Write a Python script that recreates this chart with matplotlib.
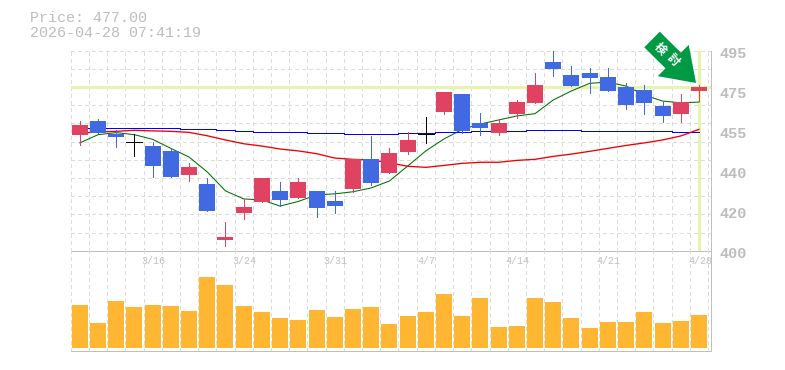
import numpy as np
import matplotlib
matplotlib.use('Agg')
import matplotlib.pyplot as plt
from matplotlib.patches import FancyArrow
from matplotlib.transforms import IdentityTransform

# prices
opens = [455.0, 461.6, 455.4, 451.6, 449.7, 447.4, 436.0, 431.7, 405.1, 417.9, 423.1, 428.4,
         425.0, 428.4, 423.6, 429.3, 443.6, 436.9, 446.9, 455.4, 465.9, 474.4, 460.7, 455.9,
         464.9, 470.2, 489.6, 483.5, 484.4, 482.5, 477.8, 476.3, 468.7, 464.9, 475.9]
closes = [459.7, 455.9, 454.0, 451.6, 440.2, 435.0, 439.8, 418.9, 406.5, 420.8, 434.5, 424.1,
          432.6, 420.3, 421.2, 443.6, 432.2, 446.4, 452.6, 455.4, 475.4, 456.9, 458.3, 460.7,
          470.6, 478.7, 486.3, 478.2, 482.0, 475.9, 469.2, 470.2, 464.0, 470.6, 477.8]
highs = [461.6, 462.6, 457.3, 455.4, 451.6, 448.8, 441.7, 434.5, 413.6, 424.6, 434.5, 432.6,
         434.5, 428.4, 428.4, 443.6, 454.5, 448.8, 456.4, 463.5, 475.4, 474.4, 465.4, 462.6,
         471.6, 484.4, 495.3, 487.7, 486.8, 486.8, 479.7, 478.7, 470.6, 474.4, 478.7]
lows = [450.2, 455.9, 449.3, 445.0, 435.0, 435.0, 433.1, 418.9, 402.2, 415.1, 423.1, 421.2,
        425.0, 416.0, 417.9, 427.9, 431.2, 436.9, 445.9, 451.2, 464.9, 455.9, 455.0, 455.0,
        463.0, 470.2, 483.0, 478.2, 474.9, 475.9, 467.3, 464.9, 461.1, 461.1, 471.1]
ma_short = [451.2, 455.1, 456.1, 455.1, 452.9, 448.6, 444.5, 437.4, 428.4, 424.6, 424.1, 421.2,
            423.4, 426.5, 427.0, 428.0, 429.8, 433.1, 440.2, 447.4, 453.1, 457.6, 460.2, 462.1,
            464.0, 465.1, 471.6, 475.9, 479.5, 480.1, 478.2, 473.9, 471.1, 470.2, 470.6]
ma_mid = [455.8, 456.4, 456.7, 457.2, 456.9, 456.7, 456.2, 454.6, 452.6, 450.8, 449.7, 448.3,
          447.4, 446.1, 444.0, 443.4, 443.1, 441.8, 440.1, 439.6, 440.5, 441.5, 442.0, 442.0,
          442.9, 443.4, 444.8, 445.9, 447.2, 448.6, 450.0, 451.2, 452.6, 454.5, 457.6]
ma_long = [458.4, 458.4, 458.4, 458.4, 458.4, 458.4, 458.0, 457.6, 457.2, 456.7, 456.2, 456.2,
           456.2, 455.8, 455.8, 455.3, 455.3, 455.3, 455.8, 455.8, 456.2, 456.2, 456.7, 456.7,
           456.7, 457.2, 457.2, 457.2, 456.7, 456.7, 456.7, 456.7, 456.7, 456.2, 456.2]
volumes = [129, 75, 141, 123, 129, 126, 111, 213, 189, 126, 108, 90, 84, 114, 93, 117, 123, 72,
           96, 108, 162, 96, 150, 63, 66, 150, 138, 90, 60, 78, 78, 108, 75, 81, 99]
date_pos = [4, 9, 14, 19, 24, 29, 34]
date_labels = ['3/16', '3/24', '3/31', '4/7', '4/14', '4/21', '4/28']
price_ticks = [400, 419, 438, 457, 476, 495]
price_labels = ['400', '420', '440', '455', '475', '495']
last_price = 477.6
header = ['Price: 477.00', '2026-04-28 07:41:19']
badge = ['\u691c', '\u8a0e']

RED = '#e04362'
BLUE = '#4169e1'
LIME = '#e6f5aa'
GRID = '#dcdcdc'
FRAME = '#bfbfbf'
TXT = '#bdbdbd'
MONO = 'Liberation Mono'
PX = 0.72  # one pixel in points

W, H = 785, 370
fig = plt.figure(figsize=(W / 100, H / 100), dpi=100)

def make_axes(top, bottom):
    a = fig.add_axes([70.7 / W, 1 - bottom / H, 640 / W, (bottom - top) / H])
    a.patch.set_visible(False)
    return a

ax = make_axes(50.7, 250.7)
vax = make_axes(250.7, 350.7)
xlim = (-0.5, 34.645)

for a in (ax, vax):
    a.set_xlim(*xlim)
    a.set_axisbelow(True)
    a.set_xticks(np.arange(-0.5, 35, 1))
    a.tick_params(length=0, labelbottom=False, labelleft=False)
    a.grid(True, axis='x', color=GRID, lw=PX, ls=(0, (3, 3)), antialiased=False)
    a.spines['top'].set_visible(False)
    a.spines['left'].set_visible(False)
    for side in ('bottom', 'right'):
        a.spines[side].set_color(FRAME)
        a.spines[side].set_linewidth(PX)
        a.spines[side].set_antialiased(False)

# price panel
ax.set_ylim(400, 495)
ax.set_yticks(np.linspace(400, 495, 12))
ax.grid(True, axis='y', color=GRID, lw=PX, ls=(0, (3, 3)), antialiased=False)

ax.axhline(last_price, color=LIME, lw=3 * PX, zorder=1, antialiased=False)
ax.axvline(34, color=LIME, lw=3 * PX, zorder=1, antialiased=False)

xs = np.arange(len(opens))
ax.plot(xs, ma_short, color='#006f00', lw=0.75, zorder=2)
ax.plot(xs, ma_long, color='#0000ff', lw=PX, drawstyle='steps-mid', zorder=2, antialiased=False)
ax.plot(xs, ma_mid, color='#f00000', lw=0.95, zorder=2)
for i in xs:
    o, c = opens[i], closes[i]
    col = 'black' if o == c else (RED if c > o else BLUE)
    ax.vlines(i, lows[i], highs[i], color=col, lw=PX, zorder=3, antialiased=False)
    if o == c:
        ax.hlines(o, i - 0.44, i + 0.44, color=col, lw=PX, zorder=3, antialiased=False)
    else:
        ax.bar(i, abs(c - o), bottom=min(o, c), width=0.88, color=col, lw=0, zorder=3, antialiased=False)

# volume panel
vax.set_ylim(-8, 292)
vax.set_yticks([])
vax.bar(xs, volumes, width=0.88, color='#ffb733', lw=0, zorder=3, antialiased=False)

# labels, placed in pixels from the top left
fig.text(30 / W, 1 - 18.5 / H, header[0], family=MONO, color=TXT, va='center', fontsize=10.8)
fig.text(30 / W, 1 - 33 / H, header[1], family=MONO, color=TXT, va='center', fontsize=10.8)

for p, lab in zip(price_ticks, price_labels):
    y = ax.transData.transform((0, p))[1]
    fig.text(720 / W, (y - 3) / H, lab, family=MONO, color=TXT, va='center',
             fontsize=11, fontweight='bold')
for p, lab in zip(date_pos, date_labels):
    x = vax.transData.transform((p, 0))[0]
    fig.text((x + 1) / W, 1 - 261 / H, lab, family=MONO, color='#c0c0c0', va='center',
             ha='center', fontsize=7.2)

# green arrow with its label
arrow = FancyArrow(652, H - 39.5, 44, -43.5, width=22, head_width=44, head_length=32,
                   length_includes_head=True, color='#009944', lw=0,
                   transform=IdentityTransform(), zorder=10)
fig.add_artist(arrow)
for ch, (tx, ty) in zip(badge, [(660, 49), (673, 60)]):
    fig.text(tx / W, 1 - ty / H, ch, family=['Noto Sans CJK JP', 'DejaVu Sans'], color='white',
             fontsize=8.5, fontweight='bold', rotation=-45, ha='center', va='center', zorder=11)

fig.savefig('out.png', dpi=100)
